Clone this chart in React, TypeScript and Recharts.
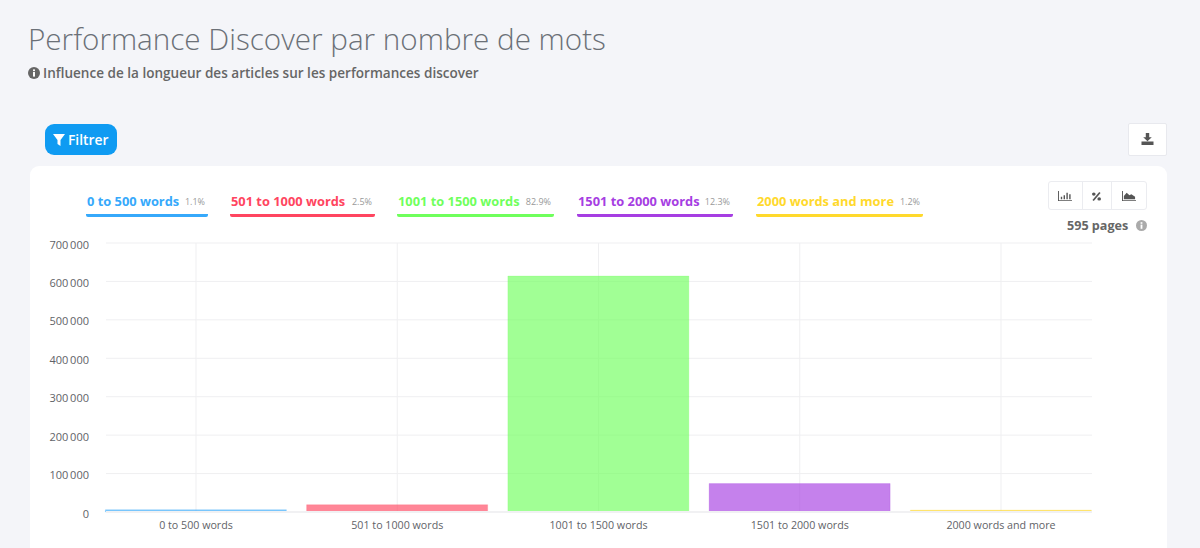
import React from "react";
import { BarChart, Bar, XAxis, YAxis, CartesianGrid, Cell } from "recharts";

const categories = ["0 to 500 words", "501 to 1000 words", "1001 to 1500 words", "1501 to 2000 words", "2000 words and more"];
const values = [6000, 19000, 614000, 74000, 5000];
const shares = ["1.1%", "2.5%", "82.9%", "12.3%", "1.2%"];
const colors = ["#36a9fb", "#ff4560", "#6fff5c", "#a63ee2", "#ffd92c"];
const yTicks = [0, 100000, 200000, 300000, 400000, 500000, 600000, 700000];
const legendLeft = [86, 230, 397, 577, 756];
const legendWidth = [122, 145, 157, 156, 167];

const data = categories.map((name, i) => ({ name, value: values[i] }));
const FONT = "'Open Sans', sans-serif";
const fmt = (v: number) => String(v).replace(/\B(?=(\d{3})+$)/g, "\u2009");

const abs = (s: React.CSSProperties): React.CSSProperties => ({ position: "absolute", ...s });

function YTick({ x, y, payload }: any) {
  return <text x={x - 9} y={y + 5.5} textAnchor="end" fontSize={11} fill="#5f6368" fontFamily={FONT}>{fmt(payload.value)}</text>;
}
function XTick({ x, y, payload }: any) {
  return <text x={x} y={y + 9} textAnchor="middle" fontSize={10.7} fill="#5f6368" fontFamily={FONT}>{payload.value}</text>;
}

const Info = ({ color, x, y, size }: { color: string; x: number; y: number; size: number }) => (
  <svg style={abs({ left: x, top: y })} width={size} height={size} viewBox="0 0 11 11">
    <circle cx={5.5} cy={5.5} r={5.5} fill={color} />
    <rect x={4.6} y={4.6} width={1.8} height={4.2} fill="#fff" />
    <rect x={4.6} y={2.2} width={1.8} height={1.6} fill="#fff" />
  </svg>
);

export default function App() {
  return (
    <div style={abs({ left: 0, top: 0, width: 1200, height: 548, background: "#f4f5f9", overflow: "hidden", fontFamily: FONT })}>
      <div style={abs({ left: 28, top: 19, fontSize: 29.64, fontWeight: 300, color: "#6b7077", lineHeight: "40px", whiteSpace: "nowrap" })}>Performance Discover par nombre de mots</div>
      <Info color="#666" x={28} y={67} size={12} />
      <div style={abs({ left: 43, top: 63, fontSize: 13.56, fontWeight: 600, color: "#666", lineHeight: "20px", whiteSpace: "nowrap" })}>Influence de la longueur des articles sur les performances discover</div>

      <div style={abs({ left: 45, top: 124, width: 71.5, height: 31, background: "#0f9bf2", borderRadius: 9 })} />
      <svg style={abs({ left: 53, top: 134 })} width={12} height={12} viewBox="0 0 12 12"><path d="M0 0H12L7.5 6V12L4.5 10V6Z" fill="#fff" /></svg>
      <div style={abs({ left: 68, top: 130, fontSize: 13.8, fontWeight: 600, color: "#fff", lineHeight: "20px" })}>Filtrer</div>

      <div style={abs({ left: 1128, top: 123, width: 37, height: 31, background: "#fff", border: "1px solid #e8e9ee", borderRadius: 2 })} />
      <svg style={abs({ left: 1141, top: 133 })} width={13} height={12} viewBox="0 0 14 14"><path d="M5 0H9V5H12L7 9.5L2 5H5ZM0 10H14V14H0Z" fill="#555" /></svg>

      <div style={abs({ left: 30, top: 166, width: 1137, height: 400, background: "#fff", borderRadius: 9 })} />

      {categories.map((c, i) => (
        <div key={c} style={abs({ left: legendLeft[i], top: 191, width: legendWidth[i], height: 26, borderBottom: `3px solid ${colors[i]}`, borderRadius: 2, boxSizing: "border-box", whiteSpace: "nowrap" })}>
          <span style={{ position: "absolute", left: 1, top: 0, fontSize: 12.85, fontWeight: 700, color: colors[i], lineHeight: "20px" }}>{c}</span>
          <span style={{ position: "absolute", right: 3, top: 1, fontSize: 9, color: "#999", lineHeight: "20px" }}>{shares[i]}</span>
        </div>
      ))}

      <div style={abs({ left: 1048, top: 181, width: 97, height: 27, background: "#fff", border: "1px solid #ebecf0", borderRadius: 3 })} />
      <div style={abs({ left: 1082, top: 181, width: 1, height: 28, background: "#ebecf0" })} />
      <div style={abs({ left: 1111, top: 181, width: 1, height: 28, background: "#ebecf0" })} />
      <svg style={abs({ left: 1058, top: 191 })} width={14} height={10} viewBox="0 0 15 12" preserveAspectRatio="none"><path d="M0 0V12H15V11H1V0ZM3 7H4.5V10H3ZM6 5H7.5V10H6ZM9 2H10.5V10H9ZM12 4H13.5V10H12Z" fill="#555" /></svg>
      <svg style={abs({ left: 1092, top: 192 })} width={9} height={9} viewBox="0 0 10 11" preserveAspectRatio="none"><path d="M8 0L9.5 1.2L2 11L0.5 9.8Z" fill="#555" /><circle cx={2} cy={2.5} r={2} fill="#555" /><circle cx={8} cy={8.5} r={2} fill="#555" /></svg>
      <svg style={abs({ left: 1122, top: 191 })} width={14} height={10} viewBox="0 0 15 12" preserveAspectRatio="none"><path d="M0 0V12H15V11H1V0ZM2 10V6L5 2L8 5L10 4L14 7V10Z" fill="#555" /></svg>
      <div style={abs({ left: 1067, top: 216, fontSize: 12.6, fontWeight: 700, color: "#666", lineHeight: "20px", whiteSpace: "nowrap" })}>595 pages</div>
      <Info color="#aaa" x={1136} y={220} size={11} />

      <div style={abs({ left: 0, top: 0 })}>
        <BarChart width={1200} height={548} data={data} margin={{ top: 243, right: 108, bottom: 0, left: 30 }} barSize={181}>
          <CartesianGrid stroke="#efeff1" strokeWidth={1} syncWithTicks />
          <XAxis dataKey="name" scale="point" padding={{ left: 90, right: 91 }} interval={0} height={36} axisLine={{ stroke: "#f1f1f3", strokeWidth: 2 }} tickLine={false} tick={<XTick />} />
          <YAxis type="number" domain={[0, 700000]} ticks={yTicks} width={76} axisLine={false} tickLine={false} tick={<YTick />} />
          <Bar dataKey="value" isAnimationActive={false} fillOpacity={0.65} strokeOpacity={0.2} strokeWidth={1}>
            {data.map((d, i) => <Cell key={d.name} fill={colors[i]} stroke={colors[i]} />)}
          </Bar>
        </BarChart>
      </div>
    </div>
  );
}
